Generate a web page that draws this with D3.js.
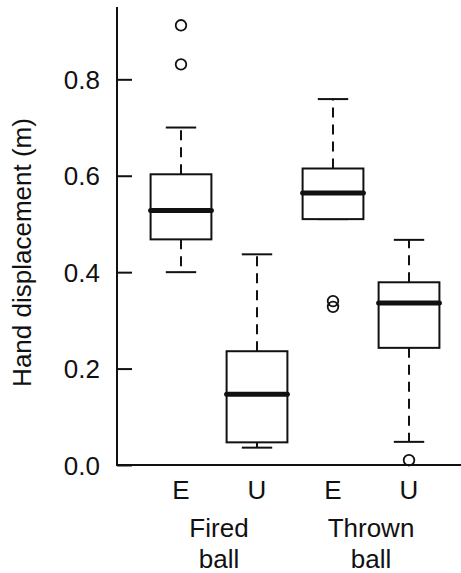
<!DOCTYPE html>
<html>
<head>
<meta charset="utf-8">
<script src="https://cdn.jsdelivr.net/npm/d3@7"></script>
<style>
  html, body { margin: 0; padding: 0; background: #fff; }
  svg { display: block; }
  text { font-family: "Liberation Sans", Arial, sans-serif; fill: #111; }
</style>
</head>
<body>
<svg id="chart" width="461" height="573"></svg>
<script>
// ---- data ----
const positions = [1, 2, 3, 4];
const subLabels = ["E", "U", "E", "U"];
const groupLabels = [["Fired", "ball"], ["Thrown", "ball"]];
const groupCenters = [1.5, 3.5];
const lowerWhisker = [0.400, 0.036, 0.510, 0.048];
const q1 = [0.468, 0.047, 0.510, 0.243];
const median = [0.528, 0.147, 0.564, 0.336];
const q3 = [0.603, 0.236, 0.615, 0.379];
const upperWhisker = [0.700, 0.437, 0.759, 0.467];
const outliers = [[0.912, 0.831], [], [0.340, 0.328], [0.010]];
const yTicks = [0.0, 0.2, 0.4, 0.6, 0.8];
const yLabel = "Hand displacement (m)";

// ---- layout ----
const svg = d3.select("#chart");
const x = d3.scaleLinear().domain([0.158, 4.684]).range([117, 461]);
const y = d3.scaleLinear().domain([0, 0.95]).range([465, 7]);
const boxW = x(1.8) - x(1);   // box width 0.8 units
const capW = x(1.4) - x(1);   // staple width 0.4 units
const ink = "#111";

// axes lines (bty = "l")
svg.append("line").attr("x1", x(x.domain()[0])).attr("x2", x(x.domain()[0]))
  .attr("y1", y(0.95)).attr("y2", y(0)).attr("stroke", ink).attr("stroke-width", 2);
svg.append("line").attr("x1", x(x.domain()[0]) - 1).attr("x2", x(x.domain()[1]))
  .attr("y1", y(0)).attr("y2", y(0)).attr("stroke", ink).attr("stroke-width", 2);

// y axis via d3 axis, ticks pointing inward
const yAxis = d3.axisRight(y).tickValues(yTicks).tickSize(15).tickFormat(d3.format(".1f"));
const gy = svg.append("g").attr("transform", `translate(${x(x.domain()[0])},0)`).call(yAxis);
gy.select(".domain").remove();
gy.selectAll(".tick line").attr("stroke", ink).attr("stroke-width", 2);
gy.selectAll(".tick text")
  .attr("x", -17).attr("text-anchor", "end").attr("dy", "0.35em")
  .style("font-size", "26px").style("font-family", "'Liberation Sans', Arial, sans-serif")
  .attr("fill", ink);

// y label
svg.append("text")
  .attr("transform", `translate(31,${(113 + 392) / 2}) rotate(-90)`)
  .attr("text-anchor", "middle")
  .style("font-size", "26px")
  .text(yLabel);

// boxes
positions.forEach((p, i) => {
  const g = svg.append("g");
  const cx = x(p);
  // whiskers (dashed)
  g.append("line").attr("x1", cx).attr("x2", cx).attr("y1", y(q3[i])).attr("y2", y(upperWhisker[i]))
    .attr("stroke", ink).attr("stroke-width", 2).attr("stroke-dasharray", "10,7");
  g.append("line").attr("x1", cx).attr("x2", cx).attr("y1", y(q1[i])).attr("y2", y(lowerWhisker[i]))
    .attr("stroke", ink).attr("stroke-width", 2).attr("stroke-dasharray", "10,7");
  // staples
  [upperWhisker[i], lowerWhisker[i]].forEach(v => {
    g.append("line").attr("x1", cx - capW / 2).attr("x2", cx + capW / 2)
      .attr("y1", y(v)).attr("y2", y(v)).attr("stroke", ink).attr("stroke-width", 2);
  });
  // box
  g.append("rect").attr("x", cx - boxW / 2).attr("width", boxW)
    .attr("y", y(q3[i])).attr("height", y(q1[i]) - y(q3[i]))
    .attr("fill", "#fff").attr("stroke", ink).attr("stroke-width", 2);
  // median
  g.append("line").attr("x1", cx - boxW / 2).attr("x2", cx + boxW / 2)
    .attr("y1", y(median[i])).attr("y2", y(median[i]))
    .attr("stroke", ink).attr("stroke-width", 5).attr("stroke-linecap", "round");
  // outliers
  outliers[i].forEach(v => {
    g.append("circle").attr("cx", cx).attr("cy", y(v)).attr("r", 5.3)
      .attr("fill", "none").attr("stroke", ink).attr("stroke-width", 1.8);
  });
  // sub label
  svg.append("text").attr("x", cx).attr("y", 499).attr("text-anchor", "middle")
    .style("font-size", "26px").text(subLabels[i]);
});

// group labels
groupLabels.forEach((lines, j) => {
  lines.forEach((t, k) => {
    svg.append("text").attr("x", x(groupCenters[j])).attr("y", 536.5 + k * 31)
      .attr("text-anchor", "middle").style("font-size", "26px").text(t);
  });
});
</script>
</body>
</html>
